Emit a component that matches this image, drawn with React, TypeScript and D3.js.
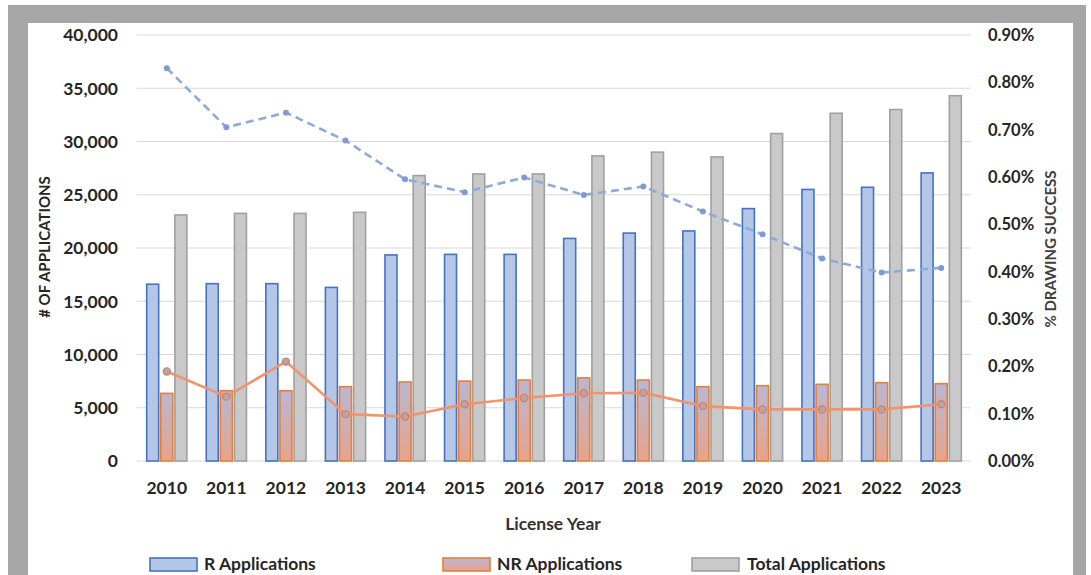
import React from "react";
import * as d3 from "d3";

const years = ["2010", "2011", "2012", "2013", "2014", "2015", "2016", "2017", "2018", "2019", "2020", "2021", "2022", "2023"];
const rApps = [16600, 16650, 16650, 16300, 19350, 19400, 19400, 20900, 21400, 21600, 23700, 25500, 25700, 27050];
const nrApps = [6350, 6600, 6600, 6980, 7420, 7500, 7600, 7800, 7600, 6980, 7070, 7200, 7350, 7260];
const totalApps = [23100, 23250, 23250, 23350, 26800, 26950, 26950, 28650, 29000, 28550, 30750, 32650, 33000, 34300];
const rSuccess = [0.83, 0.705, 0.736, 0.677, 0.595, 0.568, 0.599, 0.562, 0.58, 0.527, 0.479, 0.428, 0.398, 0.408];
const nrSuccess = [0.189, 0.136, 0.21, 0.099, 0.094, 0.12, 0.133, 0.143, 0.144, 0.116, 0.109, 0.109, 0.109, 0.12];
const leftTicks = [0, 5000, 10000, 15000, 20000, 25000, 30000, 35000, 40000];
const rightTicks = [0, 0.1, 0.2, 0.3, 0.4, 0.5, 0.6, 0.7, 0.8, 0.9];
const seriesNames = ["R Applications", "NR Applications", "Total Applications"];

const W = 1091;
const H = 575;
const left = 137;
const right = 971;
const top = 35;
const bottom = 461;
const font = "Lato, 'Open Sans', sans-serif";

export default function App() {
  const x0 = d3.scaleBand().domain(years).range([left, right]).paddingInner(0.325).paddingOuter(0.1625);
  const x1 = d3.scaleBand().domain(seriesNames).range([0, x0.bandwidth()]).paddingInner(0.15);
  const y = d3.scaleLinear().domain([0, 40000]).range([bottom, top]);
  const yR = d3.scaleLinear().domain([0, 0.9]).range([bottom, top]);
  const cx = (yr: string) => (x0(yr) ?? 0) + x0.bandwidth() / 2;
  const fmt = d3.format(",");

  const line = d3
    .line<number>()
    .x((_, i) => cx(years[i]))
    .y((d) => yR(d));

  const seriesData = [rApps, nrApps, totalApps];
  const fills = ["#b4c7e7", "url(#nrGrad)", "#c9c9c9"];
  const strokes = ["#4472c4", "#ed7d31", "#a0a0a0"];

  const legendItems = [
    { x: 150, tx: 204 },
    { x: 443, tx: 497 },
    { x: 692, tx: 747 },
  ];

  return (
    <svg width={W} height={H} style={{ position: "absolute", left: 0, top: 0, display: "block" }}>
      <defs>
        <linearGradient id="nrGrad" x1="0" y1="0" x2="0" y2="1">
          <stop offset="0%" stopColor="#b9b7d3" />
          <stop offset="100%" stopColor="#e6a48c" />
        </linearGradient>
      </defs>
      <rect x={0} y={0} width={W} height={H} fill="#ffffff" />
      <rect x={8} y={5} width={1078} height={H} fill="#a6a6a6" />
      <rect x={28} y={23} width={1045} height={H} fill="#ffffff" />

      {/* gridlines */}
      {leftTicks.map((t) => (
        <line key={t} x1={left} x2={right} y1={y(t)} y2={y(t)} stroke="#d9d9d9" strokeWidth={1.2} />
      ))}

      {/* left axis labels */}
      {leftTicks.map((t) => (
        <text key={t} x={118} y={y(t)} dy="0.36em" textAnchor="end" fontFamily={font} fontWeight={700} fontSize={17.5} fill="#262626">
          {fmt(t)}
        </text>
      ))}

      {/* right axis labels */}
      {rightTicks.map((t) => (
        <text key={t} x={988} y={yR(t)} dy="0.36em" textAnchor="start" fontFamily={font} fontWeight={700} fontSize={16.5} fill="#262626">
          {t.toFixed(2)}%
        </text>
      ))}

      {/* bars */}
      {years.map((yr, i) => (
        <g key={yr} transform={`translate(${x0(yr)},0)`}>
          {seriesNames.map((s, k) => (
            <rect
              key={s}
              x={x1(s)}
              y={y(seriesData[k][i])}
              width={x1.bandwidth()}
              height={bottom - y(seriesData[k][i])}
              fill={fills[k]}
              stroke={strokes[k]}
              strokeWidth={1.6}
            />
          ))}
        </g>
      ))}

      {/* R success dashed line */}
      <path d={line(rSuccess) ?? ""} fill="none" stroke="#8eaadb" strokeWidth={2.6} strokeDasharray="8,5" />
      {rSuccess.map((v, i) => (
        <circle key={i} cx={cx(years[i])} cy={yR(v)} r={3} fill="#7f9bd5" />
      ))}

      {/* NR success line */}
      <path d={line(nrSuccess) ?? ""} fill="none" stroke="#f4926c" strokeWidth={2.6} />
      {nrSuccess.map((v, i) => (
        <circle key={i} cx={cx(years[i])} cy={yR(v)} r={3.6} fill="#b9a3a6" stroke="#cf8068" strokeWidth={1.2} />
      ))}

      {/* x labels */}
      {years.map((yr) => (
        <text key={yr} x={cx(yr)} y={494} textAnchor="middle" fontFamily={font} fontWeight={700} fontSize={17.5} fill="#262626">
          {yr}
        </text>
      ))}

      <text x={553} y={530} textAnchor="middle" fontFamily={font} fontWeight={700} fontSize={17.5} fill="#333333">
        License Year
      </text>

      <text
        transform={`translate(50,247) rotate(-90)`}
        textAnchor="middle"
        fontFamily={font}
        fontWeight={700}
        fontSize={15}
        fill="#262626"
      >
        # OF APPLICATIONS
      </text>
      <text
        transform={`translate(1056,249) rotate(-90)`}
        textAnchor="middle"
        fontFamily={font}
        fontWeight={700}
        fontSize={15}
        fill="#404040"
      >
        % DRAWING SUCCESS
      </text>

      {/* legend */}
      {legendItems.map((l, k) => (
        <g key={k}>
          <rect x={l.x} y={558} width={47} height={13} fill={fills[k]} stroke={strokes[k]} strokeWidth={1.6} />
          <text x={l.tx} y={570} fontFamily={font} fontWeight={700} fontSize={17.5} fill="#262626">
            {seriesNames[k]}
          </text>
        </g>
      ))}
    </svg>
  );
}
